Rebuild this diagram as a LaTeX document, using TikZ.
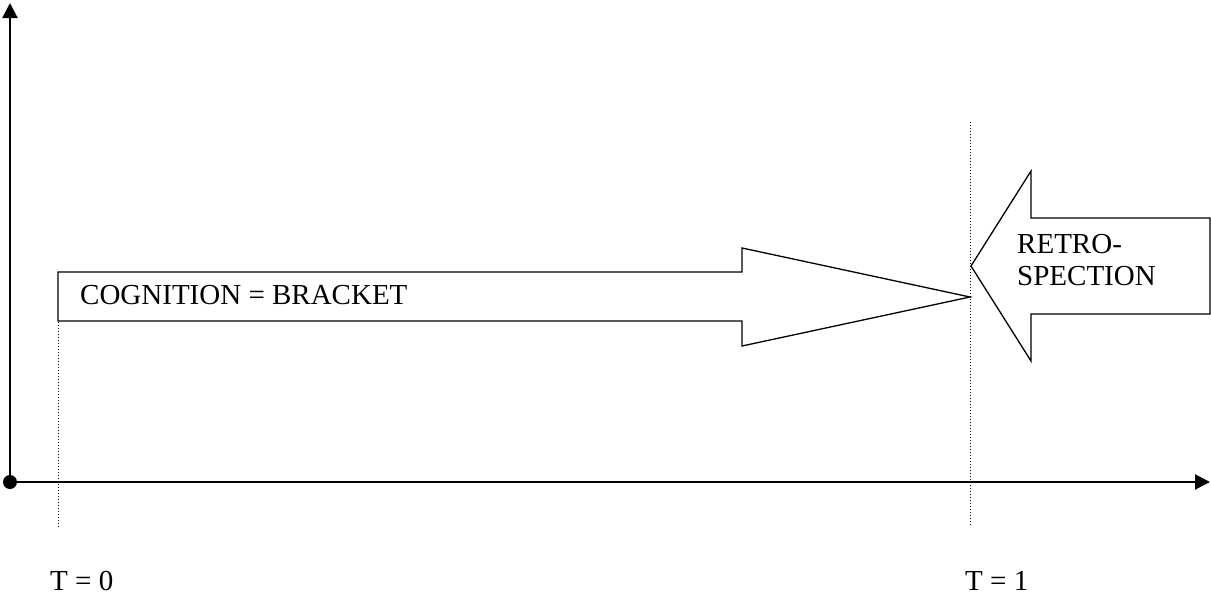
\documentclass[tikz,border=0pt]{standalone}
\usepackage{fontspec}
\setmainfont{Liberation Serif}
\usetikzlibrary{arrows.meta}
\begin{document}
\begin{tikzpicture}[x=1pt,y=-1pt,
  axis/.style={line width=2pt,-{Triangle[length=15pt,width=15pt]}},
  guide/.style={line width=1pt,dash pattern=on 1pt off 2pt},
  bigarrow/.style={draw=black,line width=1.3pt,fill=white,line join=miter},
  lbl/.style={anchor=base west,inner sep=0pt,font=\fontsize{29}{32}\selectfont}]
\useasboundingbox (0,0) rectangle (1211,597);
% guides
\coordinate (g0top) at (58,322);
\coordinate (g0bot) at (58,527);
\coordinate (g1top) at (970,122);
\coordinate (g1bot) at (970,527);
\draw[guide] (g0top) -- (g0bot);
\draw[guide] (g1top) -- (g1bot);
% axes
\node[circle,fill=black,inner sep=0pt,minimum size=14pt] (o) at (10,482) {};
\coordinate (yend) at (10,3);
\coordinate (xend) at (1210,482);
\draw[axis] (o.center) -- (yend);
\draw[axis] (o.center) -- (xend);
% cognition arrow
\draw[bigarrow] (58,272) -- (742,272) -- (742,248) -- (970,297) -- (742,346) -- (742,321) -- (58,321) -- cycle;
% retrospection arrow
\draw[bigarrow] (1210,218) -- (1031,218) -- (1031,171) -- (971,266) -- (1031,361) -- (1031,314) -- (1210,314) -- cycle;
% labels
\node[lbl] (cog) at (80,304) {COGNITION = BRACKET};
\node[lbl] (retro1) at (1017,253) {RETRO-};
\node[lbl] (retro2) at (1017,285) {SPECTION};
\node[lbl] (t0) at (50,590) {T = 0};
\node[lbl] (t1) at (965,590) {T = 1};
\end{tikzpicture}
\end{document}
